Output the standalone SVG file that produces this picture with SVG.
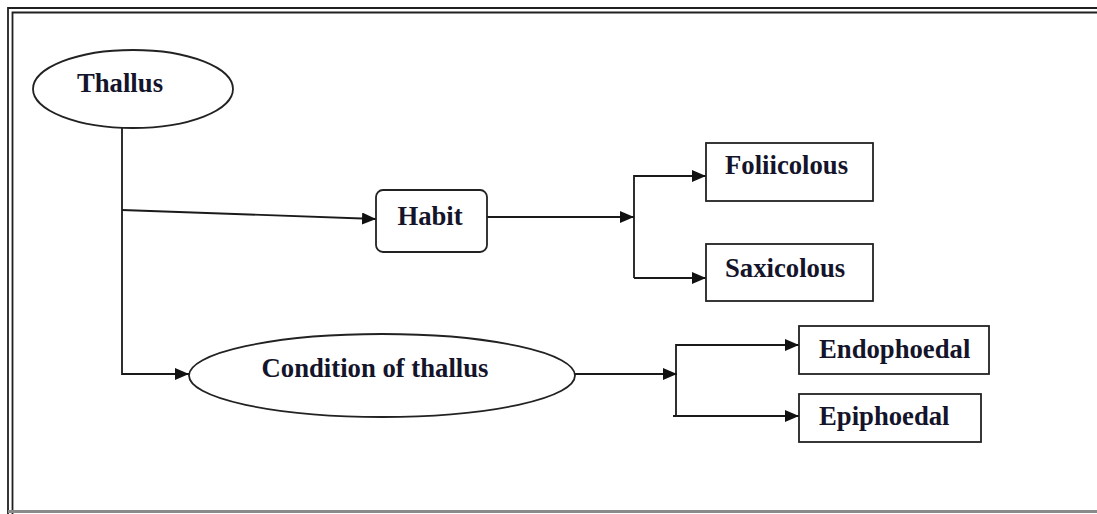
<svg xmlns="http://www.w3.org/2000/svg" width="1097" height="514" viewBox="0 0 1097 514">
  <style>
    .shape { fill: #ffffff; stroke: #222222; stroke-width: 1.8; }
    .label { font-family: "Liberation Serif", "Times New Roman", serif; font-weight: bold; font-size: 26.7px; fill: #14142a; }
    .link { fill: none; stroke: #1a1a1a; stroke-width: 1.8; }
    .frame { fill: none; stroke: #202020; stroke-width: 1.8; }
  </style>
  <defs>
    <marker id="arrow" viewBox="0 0 14 12" refX="14" refY="6" markerWidth="14" markerHeight="12" markerUnits="userSpaceOnUse" orient="auto">
      <path d="M0,0 L14,6 L0,12 Z" fill="#111111"/>
    </marker>
  </defs>
  <rect width="1097" height="514" fill="#ffffff"/>

  <!-- page frame: double rule on top and left, grey rule at the bottom -->
  <g id="frame">
    <path class="frame" d="M8,514 V8 H1097"/>
    <path class="frame" d="M12.5,514 V12.5 H1097"/>
    <line x1="8" y1="511.5" x2="1097" y2="511.5" stroke="#8a8a8a" stroke-width="3"/>
  </g>

  <!-- connectors -->
  <g id="connectors">
    <path class="link" d="M122,128 V374 H189" marker-end="url(#arrow)"/>
    <line class="link" x1="122" y1="210" x2="376" y2="219" marker-end="url(#arrow)"/>
    <line class="link" x1="487" y1="217" x2="634" y2="217" marker-end="url(#arrow)"/>
    <path class="link" d="M634,278 V176 H706" marker-end="url(#arrow)"/>
    <line class="link" x1="634" y1="278" x2="706" y2="278" marker-end="url(#arrow)"/>
    <line class="link" x1="575" y1="374" x2="677" y2="374" marker-end="url(#arrow)"/>
    <path class="link" d="M676,416 V345 H799" marker-end="url(#arrow)"/>
    <line class="link" x1="673" y1="416" x2="799" y2="416" marker-end="url(#arrow)"/>
  </g>

  <g id="thallus">
    <ellipse class="shape" cx="133" cy="89" rx="100" ry="39"/>
    <text class="label" x="120" y="92" text-anchor="middle">Thallus</text>
  </g>

  <g id="habit">
    <rect class="shape" x="376" y="190" width="111" height="62" rx="7"/>
    <text class="label" x="430" y="225" text-anchor="middle">Habit</text>
  </g>

  <g id="foliicolous">
    <rect class="shape" x="706" y="143" width="167" height="58"/>
    <text class="label" x="725" y="174">Foliicolous</text>
  </g>

  <g id="saxicolous">
    <rect class="shape" x="706" y="244" width="167" height="57"/>
    <text class="label" x="725" y="277">Saxicolous</text>
  </g>

  <g id="condition">
    <ellipse class="shape" cx="382" cy="375.5" rx="193" ry="41.5"/>
    <text class="label" x="375" y="377" text-anchor="middle">Condition of thallus</text>
  </g>

  <g id="endophoedal">
    <rect class="shape" x="799" y="326" width="190" height="48"/>
    <text class="label" x="819" y="358">Endophoedal</text>
  </g>

  <g id="epiphoedal">
    <rect class="shape" x="799" y="394" width="182" height="48"/>
    <text class="label" x="819" y="425">Epiphoedal</text>
  </g>
</svg>
